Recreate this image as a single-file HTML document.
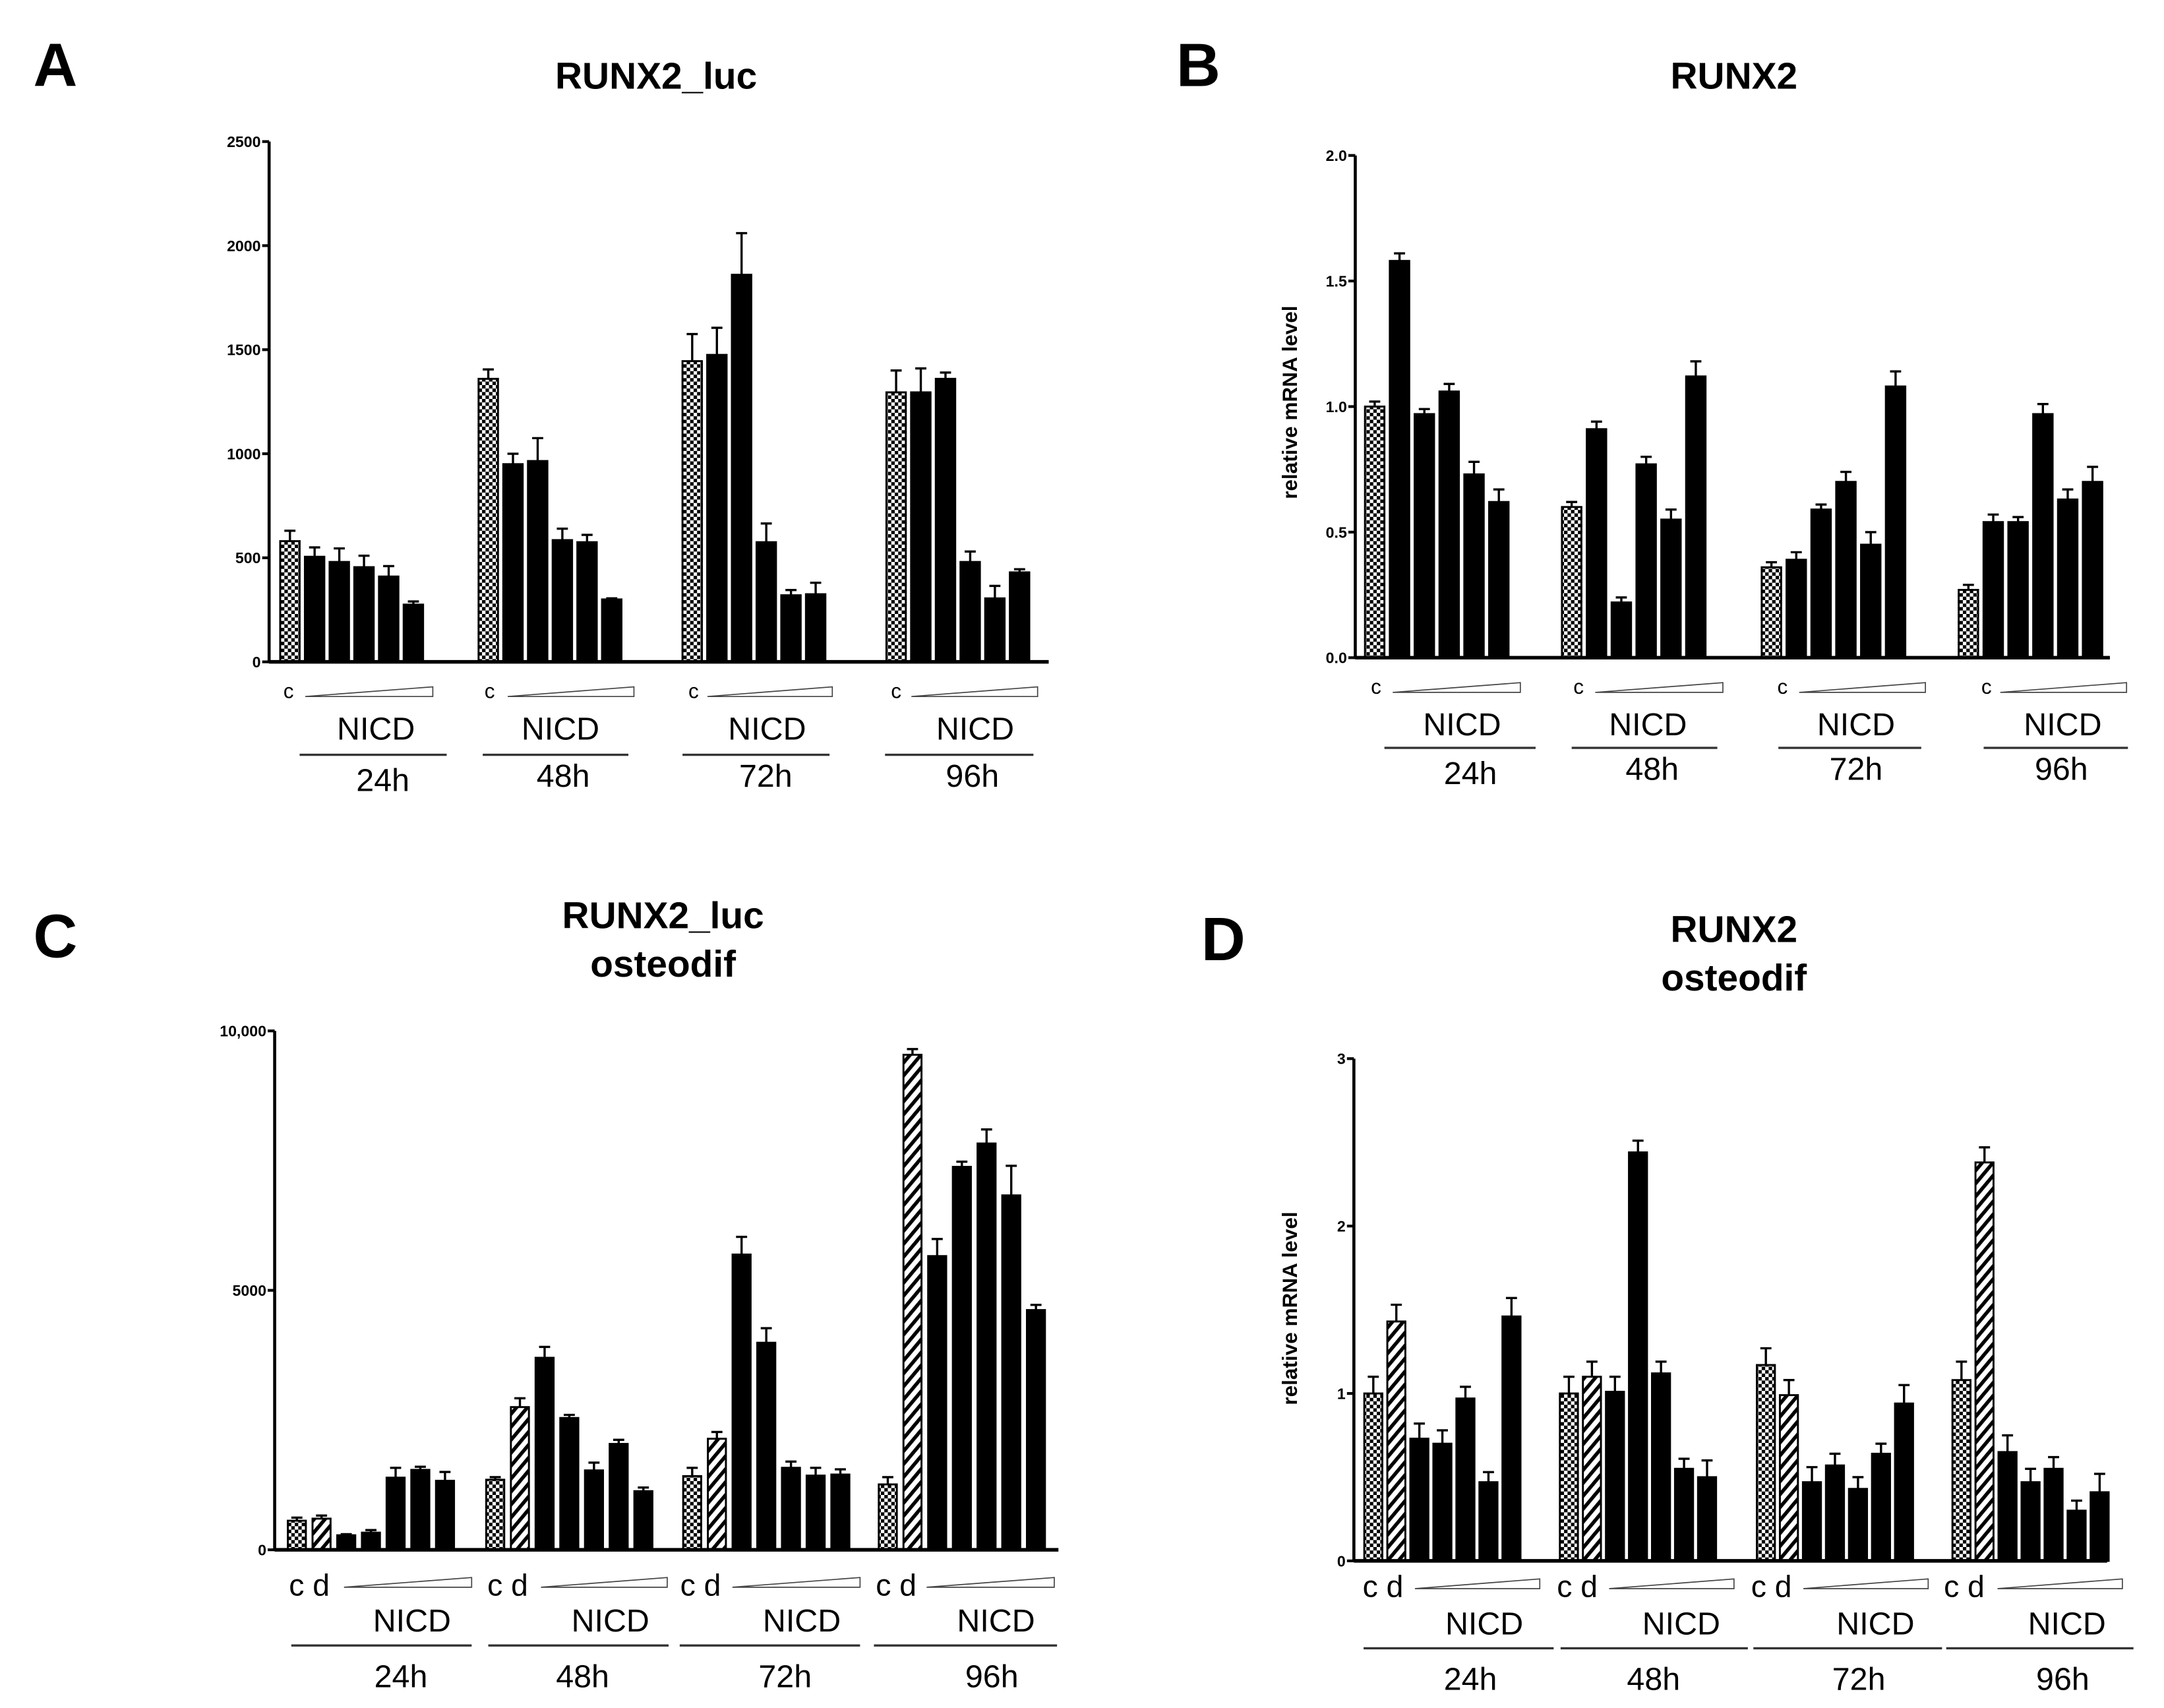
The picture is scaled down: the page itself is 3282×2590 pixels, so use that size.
<!DOCTYPE html>
<html><head><meta charset="utf-8">
<style>
html,body{margin:0;padding:0;background:#fff;}
svg{display:block;}
text{font-family:"Liberation Sans",Arial,sans-serif;}
</style></head>
<body>
<svg id="fig" width="3282" height="2590" viewBox="0 0 1560 1231" xmlns="http://www.w3.org/2000/svg">
<defs>
<pattern id="checker" width="5" height="5" patternUnits="userSpaceOnUse">
<rect width="5" height="5" fill="#fff"/><rect width="2.5" height="2.5" fill="#000"/><rect x="2.5" y="2.5" width="2.5" height="2.5" fill="#000"/>
</pattern>
<pattern id="hatch" width="6" height="6" patternUnits="userSpaceOnUse" patternTransform="rotate(40)">
<rect width="6" height="6" fill="#fff"/><rect width="2.6" height="6" fill="#000"/>
</pattern>
</defs>
<g id="root"></g>
</svg>
<script>
// ---- Panel A data ----
const aGroups = ["24h","48h","72h","96h"];
const aValues = [[580,505,480,455,410,275],[1360,950,965,585,575,300],[1445,1475,1860,575,320,325],[1295,1295,1360,480,305,430]];
const aErrors = [[630,550,545,510,460,290],[1405,1000,1075,640,610,305],[1575,1605,2060,665,345,380],[1400,1410,1390,530,365,445]];
const aTicks = [0,500,1000,1500,2000,2500];
const aTickLabels = ["0","500","1000","1500","2000","2500"];
// ---- Panel B data ----
const bValues = [[1.0,1.58,0.97,1.06,0.73,0.62],[0.60,0.91,0.22,0.77,0.55,1.12],[0.36,0.39,0.59,0.70,0.45,1.08],[0.27,0.54,0.54,0.97,0.63,0.70]];
const bErrors = [[1.02,1.61,0.99,1.09,0.78,0.67],[0.62,0.94,0.24,0.80,0.59,1.18],[0.38,0.42,0.61,0.74,0.50,1.14],[0.29,0.57,0.56,1.01,0.67,0.76]];
const bTicks = [0,0.5,1,1.5,2];
const bTickLabels = ["0.0","0.5","1.0","1.5","2.0"];
// ---- Panel C data ----
const cValues = [[560,600,280,330,1390,1540,1330],[1350,2750,3700,2540,1530,2040,1130],[1420,2140,5690,3990,1580,1430,1450],[1260,9540,5660,7380,7830,6830,4620]];
const cErrors = [[620,660,300,380,1580,1600,1500],[1400,2920,3910,2600,1680,2120,1200],[1580,2270,6030,4270,1700,1580,1550],[1400,9650,5990,7480,8100,7400,4720]];
const cTicks = [0,5000,10000];
const cTickLabels = ["0","5000","10,000"];
// ---- Panel D data ----
const dValues = [[1.0,1.43,0.73,0.70,0.97,0.47,1.46],[1.0,1.10,1.01,2.44,1.12,0.55,0.50],[1.17,0.99,0.47,0.57,0.43,0.64,0.94],[1.08,2.38,0.65,0.47,0.55,0.30,0.41]];
const dErrors = [[1.10,1.53,0.82,0.78,1.04,0.53,1.57],[1.10,1.19,1.10,2.51,1.19,0.61,0.60],[1.27,1.08,0.56,0.64,0.50,0.70,1.05],[1.19,2.47,0.75,0.55,0.62,0.36,0.52]];
const dTicks = [0,1,2,3];
const dTickLabels = ["0","1","2","3"];

const NS="http://www.w3.org/2000/svg";
const root=document.getElementById('root');
function mk(tag,attrs,parent,txt){const e=document.createElementNS(NS,tag);for(const k in attrs)e.setAttribute(k,attrs[k]);if(txt!==undefined)e.textContent=txt;(parent||root).appendChild(e);return e;}

function panel(cfg){
  const g=mk('g',{});
  
  
  const yS=v=>cfg.y0-(v/cfg.ymax)*(cfg.y0-cfg.ytop);
  const L=mk('text',{x:cfg.letterX,y:cfg.letterY,'font-size':44,'font-weight':'bold'},g,cfg.letter);
  
  
  cfg.title.forEach((t,i)=>{
    const T=mk('text',{x:cfg.titleX,y:cfg.titleY+i*35,'font-size':27,'font-weight':'bold','text-anchor':'middle'},g,t);
    
    
  });
  if(cfg.ylabel){
    const yl=mk('text',{x:0,y:0,'font-size':15,'font-weight':'bold','text-anchor':'middle',transform:`translate(${cfg.ylabelX},${cfg.ylabelY}) rotate(-90)`},g,cfg.ylabel);
    
    
  }
  cfg.ticks.forEach((t,i)=>{
    const y=yS(t);
    const tk=mk('line',{x1:cfg.ax-5,x2:cfg.ax,y1:y,y2:y,stroke:'#000','stroke-width':2},g);
    
    
    const tl=mk('text',{x:cfg.ax-6,y:y+4,'font-size':11,'font-weight':'bold','text-anchor':'end'},g,cfg.tickLabels[i]);
    
    
  });
  cfg.values.forEach((grp,gi)=>{
    grp.forEach((v,bi)=>{
      const cx=cfg.groupX[gi]+bi*cfg.pitch;
      const top=yS(v), et=yS(cfg.errors[gi][bi]);
      const el=mk('line',{x1:cx,x2:cx,y1:top,y2:et,stroke:'#000','stroke-width':1.6},g);
      
      
      const cap=mk('line',{x1:cx-4,x2:cx+4,y1:et,y2:et,stroke:'#000','stroke-width':1.6},g);
      
      
      let fill='#000';
      if(bi===0) fill='url(#checker)';
      else if(cfg.hatch && bi===1) fill='url(#hatch)';
      const r=mk('rect',{x:cx-cfg.bw/2,y:top,width:cfg.bw,height:cfg.y0-top,fill:fill,stroke:'#000','stroke-width':1.4},g);
      
      
    });
  });
  const ya=mk('line',{x1:cfg.ax,x2:cfg.ax,y1:cfg.ytop,y2:cfg.y0+1,stroke:'#000','stroke-width':2.2},g);
  
  
  const xa=mk('line',{x1:cfg.ax,x2:cfg.axEnd,y1:cfg.y0,y2:cfg.y0,stroke:'#000','stroke-width':2.6},g);
  
  
  cfg.lab.forEach((lb,gi)=>{
    const c=mk('text',{x:lb.c,y:cfg.cY,'font-size':cfg.cSize,'text-anchor':'middle'},g,cfg.hatch?'c d':'c');
    
    
    const w=mk('polygon',{points:`${lb.w0},${cfg.wY} ${lb.w1},${cfg.wY-7} ${lb.w1},${cfg.wY}`,fill:'#fff',stroke:'#444','stroke-width':0.8},g);
    
    
    const n=mk('text',{x:lb.n,y:cfg.nY,'font-size':23,'text-anchor':'middle'},g,'NICD');
    
    
    const l=mk('line',{x1:lb.l0,x2:lb.l1,y1:cfg.lY,y2:cfg.lY,stroke:'#333','stroke-width':1.6},g);
    
    
    const h=mk('text',{x:lb.h,y:cfg.hY+(gi===0?cfg.h0off:0),'font-size':23,'text-anchor':'middle'},g,aGroups[gi]);
    
    
  });
}

panel({name:'panel-a',letter:'A',letterX:24,letterY:62,title:['RUNX2_luc'],titleX:473,titleY:64,
  ax:194,axEnd:756,y0:477,ytop:102,ymax:2500,ticks:aTicks,tickLabels:aTickLabels,
  values:aValues,errors:aErrors,groupX:[209,352,499,646],pitch:17.8,bw:14,hatch:false,
  cY:503,cSize:15,wY:502,nY:533,lY:544,hY:567,h0off:3,
  lab:[{c:208,w0:220,w1:312,n:271,l0:216,l1:322,h:276},{c:353,w0:366,w1:457,n:404,l0:348,l1:453,h:406},{c:500,w0:510,w1:600,n:553,l0:492,l1:598,h:552},{c:646,w0:657,w1:748,n:703,l0:638,l1:745,h:701}]});

panel({name:'panel-b',letter:'B',letterX:848,letterY:62,title:['RUNX2'],titleX:1250,titleY:64,
  ylabel:'relative mRNA level',ylabelX:935,ylabelY:290,
  ax:977,axEnd:1521,y0:474,ytop:112,ymax:2,ticks:bTicks,tickLabels:bTickLabels,
  values:bValues,errors:bErrors,groupX:[991,1133,1277,1419],pitch:17.9,bw:14,hatch:false,
  cY:500,cSize:15,wY:499,nY:530,lY:539,hY:562,h0off:3,
  lab:[{c:992,w0:1004,w1:1096,n:1054,l0:998,l1:1107,h:1060},{c:1138,w0:1150,w1:1242,n:1188,l0:1133,l1:1238,h:1191},{c:1285,w0:1297,w1:1388,n:1338,l0:1282,l1:1385,h:1338},{c:1432,w0:1442,w1:1533,n:1487,l0:1430,l1:1534,h:1486}]});

panel({name:'panel-c',letter:'C',letterX:24,letterY:690,title:['RUNX2_luc','osteodif'],titleX:478,titleY:669,
  ax:198,axEnd:763,y0:1117,ytop:743,ymax:10000,ticks:cTicks,tickLabels:cTickLabels,
  values:cValues,errors:cErrors,groupX:[214,357,499,640],pitch:17.8,bw:13,hatch:true,
  cY:1150,cSize:22,wY:1144,nY:1176,lY:1186,hY:1216,h0off:0,
  lab:[{c:223,w0:248,w1:340,n:297,l0:210,l1:340,h:289},{c:366,w0:390,w1:481,n:440,l0:352,l1:482,h:420},{c:505,w0:528,w1:620,n:578,l0:490,l1:620,h:566},{c:646,w0:668,w1:760,n:718,l0:630,l1:762,h:715}]});

panel({name:'panel-d',letter:'D',letterX:866,letterY:692,title:['RUNX2','osteodif'],titleX:1250,titleY:679,
  ylabel:'relative mRNA level',ylabelX:935,ylabelY:943,
  ax:976,axEnd:1519,y0:1125,ytop:763,ymax:3,ticks:dTicks,tickLabels:dTickLabels,
  values:dValues,errors:dErrors,groupX:[990,1131,1273,1414],pitch:16.6,bw:13,hatch:true,
  cY:1151,cSize:22,wY:1145,nY:1178,lY:1188,hY:1218,h0off:0,
  lab:[{c:997,w0:1020,w1:1110,n:1070,l0:983,l1:1120,h:1060},{c:1137,w0:1160,w1:1250,n:1212,l0:1125,l1:1260,h:1192},{c:1277,w0:1300,w1:1390,n:1352,l0:1264,l1:1400,h:1340},{c:1416,w0:1440,w1:1530,n:1490,l0:1403,l1:1538,h:1487}]});
</script>
</body></html>
